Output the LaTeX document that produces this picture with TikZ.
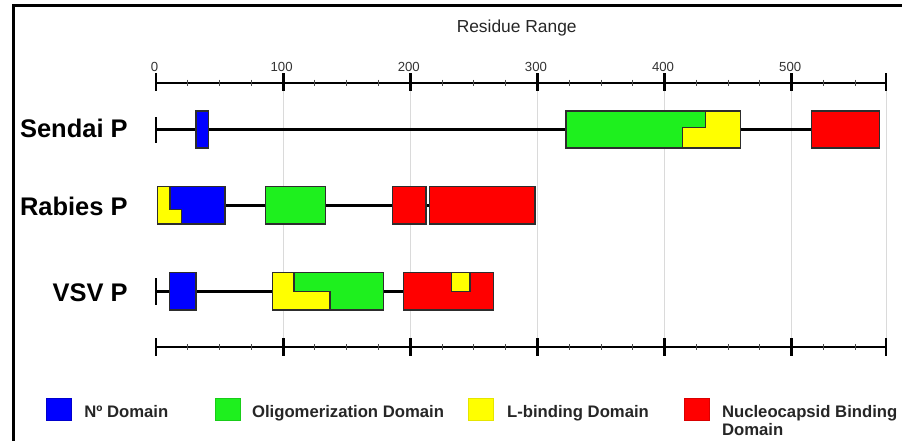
\documentclass[tikz,border=0pt]{standalone}
\usepackage{fontspec}
\setmainfont{Liberation Sans}
\definecolor{pblue}{RGB}{0,0,255}
\definecolor{pgreen}{RGB}{30,240,30}
\definecolor{pyellow}{RGB}{255,255,0}
\definecolor{pred}{RGB}{255,0,0}
\definecolor{gridgray}{RGB}{218,218,218}
\definecolor{boxline}{RGB}{45,45,45}
\begin{document}
\begin{tikzpicture}[x=0.02cm,y=-0.02cm,
  gridline/.style={draw=gridgray,line width=0.55pt},
  axisline/.style={draw=black,line width=1.1pt},
  majortick/.style={draw=black,line width=1.7pt},
  endtick/.style={draw=black,line width=0.9pt},
  minortick/.style={draw=black!70,line width=0.5pt},
  rowline/.style={draw=black,line width=1.7pt},
  dbox/.style={draw=boxline,line width=0.75pt},
  ticklabel/.style={font=\fontsize{7.5}{9}\selectfont,text=black!80,inner sep=0pt},
  rowlabel/.style={font=\bfseries\fontsize{14.5}{16}\selectfont,inner sep=0pt},
  legtext/.style={font=\bfseries\fontsize{9.5}{10.4}\selectfont,inner sep=0pt,text=black!85},
  legsq/.style={line width=0.4pt}]
\useasboundingbox (0,0) rectangle (902,441);
\fill[white] (0,0) rectangle (902,441);
% frame
\draw[line width=1.7pt,line join=miter] (902,5.5) -- (13.5,5.5) -- (13.5,441);
% title
\node[font=\fontsize{9.9}{12}\selectfont,text=black!85] (title) at (516.7,28) {Residue Range};
% grid lines
\foreach \v in {100,200,300,400,500} {
  \draw[gridline] ({156+\v*1.2714},91) -- ({156+\v*1.2714},338);
}
\draw[gridline] (886,91) -- (886,338);
% top axis
\draw[axisline] (156,82.7) -- (886,82.7);
\foreach \v in {25,50,75,125,150,175,225,250,275,325,350,375,425,450,475,525,550} {
  \draw[minortick] ({156+\v*1.2714},79.7) -- ({156+\v*1.2714},85.7);
}
\foreach \v in {100,200,300,400,500} {
  \draw[majortick] ({156+\v*1.2714},73) -- ({156+\v*1.2714},91);
}
\draw[endtick] (156,73) -- (156,91);
\draw[endtick] (886,73) -- (886,91);
\foreach \v in {0,100,200,300,400,500} {
  \node[ticklabel,anchor=base] (t\v) at ({156+\v*1.2714-1.5},71) {\v};
}
% bottom axis
\draw[axisline] (156,347) -- (886,347);
\foreach \v in {25,50,75,125,150,175,225,250,275,325,350,375,425,450,475,525,550} {
  \draw[minortick] ({156+\v*1.2714},344) -- ({156+\v*1.2714},350);
}
\foreach \v in {100,200,300,400,500} {
  \draw[majortick] ({156+\v*1.2714},338) -- ({156+\v*1.2714},356);
}
\draw[endtick] (156,338) -- (156,356);
\draw[endtick] (886,338) -- (886,356);
% ---------------- Sendai P
\node[rowlabel,anchor=base east] (sendai) at (128,137.5) {Sendai P};
\draw[rowline] (156,129.5) -- (811.7,129.5);
\draw[endtick,line width=1.2pt] (156,117) -- (156,143);
\filldraw[dbox,fill=pblue] (196,111) rectangle (208.3,148);
\fill[pgreen] (566,111) rectangle (740.3,148);
\fill[pyellow] (705.7,111) -- (740.3,111) -- (740.3,148) -- (682.3,148) -- (682.3,127.3) -- (705.7,127.3) -- cycle;
\draw[dbox] (705.7,111) -- (705.7,127.3) -- (682.3,127.3) -- (682.3,148);
\draw[dbox] (566,111) rectangle (740.3,148);
\filldraw[dbox,fill=pred] (811.7,111) rectangle (879.3,148);
% ---------------- Rabies P
\node[rowlabel,anchor=base east] (rabies) at (128,215) {Rabies P};
\draw[rowline] (225,205.3) -- (429.3,205.3);
\fill[pblue] (157.7,186.7) rectangle (225,224);
\fill[pyellow] (157.7,186.7) -- (170,186.7) -- (170,209.3) -- (181.3,209.3) -- (181.3,224) -- (157.7,224) -- cycle;
\draw[dbox] (170,186.7) -- (170,209.3) -- (181.3,209.3) -- (181.3,224);
\draw[dbox] (157.7,186.7) rectangle (225,224);
\filldraw[dbox,fill=pgreen] (265.7,186.7) rectangle (325.7,224);
\filldraw[dbox,fill=pred] (392.7,186.7) rectangle (426,224);
\filldraw[dbox,fill=pred] (429.3,186.7) rectangle (535,224);
% ---------------- VSV P
\node[rowlabel,anchor=base east] (vsv) at (128,301.5) {VSV P};
\draw[rowline] (156,291.3) -- (403.3,291.3);
\draw[endtick,line width=1.2pt] (155.7,278) -- (155.7,305);
\filldraw[dbox,fill=pblue] (169.3,272.7) rectangle (196,310);
\fill[pgreen] (272.3,272.7) rectangle (383.3,310);
\fill[pyellow] (272.3,272.7) -- (294,272.7) -- (294,291.7) -- (330,291.7) -- (330,310) -- (272.3,310) -- cycle;
\draw[dbox] (294,272.7) -- (294,291.7) -- (330,291.7) -- (330,310);
\draw[dbox] (272.3,272.7) rectangle (383.3,310);
\filldraw[dbox,fill=pred] (403.3,272.7) rectangle (493.3,310);
\filldraw[dbox,fill=pyellow] (451.7,272.7) rectangle (470,291.7);
% ---------------- legend
\filldraw[legsq,fill=pblue,draw=pblue!80!black] (46.7,398) rectangle (71.7,420.7);
\node[legtext,anchor=base west] (lgn) at (84,417.3) {Nº Domain};
\filldraw[legsq,fill=pgreen,draw=pgreen!85!black] (215,398) rectangle (240,420.7);
\node[legtext,anchor=base west] (lgo) at (251.7,417.3) {Oligomerization Domain};
\filldraw[legsq,fill=pyellow,draw=pyellow!90!black] (468,398) rectangle (493,420.7);
\node[legtext,anchor=base west] (lgl) at (506.7,417.3) {L-binding Domain};
\filldraw[legsq,fill=pred,draw=pred!85!black] (684,398) rectangle (709,420.7);
\node[legtext,anchor=base west] (lgr) at (721.7,417.3) {Nucleocapsid Binding};
\node[legtext,anchor=base west] (lgr2) at (721.7,435.6) {Domain};
\end{tikzpicture}
\end{document}
